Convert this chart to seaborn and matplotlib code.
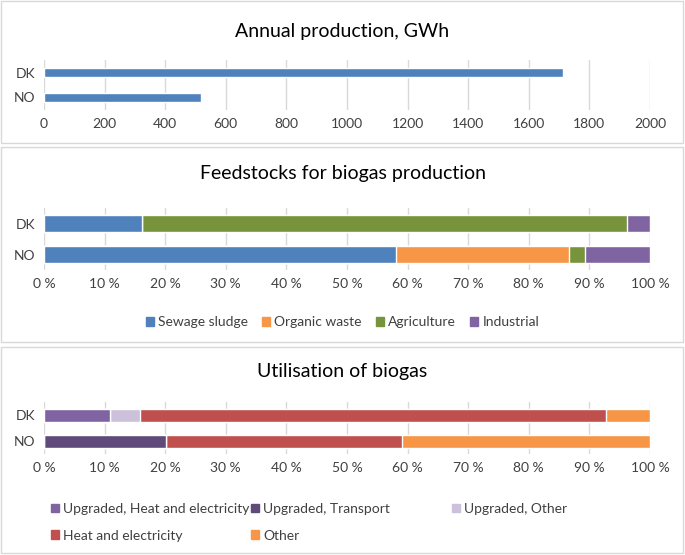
import numpy as np
import pandas as pd
import matplotlib
matplotlib.use("Agg")
import matplotlib.pyplot as plt
import seaborn as sns
from matplotlib.patches import Rectangle, Patch
from matplotlib.ticker import FuncFormatter

countries = ["DK", "NO"]

# annual production, GWh
production = [1713, 518]

# feedstock shares, %
feed_labels = ["Sewage sludge", "Organic waste", "Agriculture", "Industrial"]
feed_dk = [16.2, 0.0, 80.0, 3.8]
feed_no = [58.1, 28.5, 2.7, 10.7]
feed_colors = ["#4F81BD", "#F79646", "#77933C", "#8064A2"]

# utilisation shares, %
use_labels = ["Upgraded, Heat and electricity", "Upgraded, Transport", "Upgraded, Other",
              "Heat and electricity", "Other"]
use_dk = [10.9, 0.0, 5.0, 76.8, 7.3]
use_no = [0.0, 20.1, 0.0, 39.0, 40.9]
use_colors = ["#8064A2", "#604A7B", "#CCC1DA", "#C0504D", "#F79646"]

W, H = 685, 555
sns.set_theme(style="white")
plt.rcParams["font.family"] = ["Lato", "DejaVu Sans"]
txt = "#404040"

fig = plt.figure(figsize=(W / 100, H / 100), dpi=100)


def px_axes(x0, x1, y0, y1):
    return fig.add_axes([x0 / W, 1 - y1 / H, (x1 - x0) / W, (y1 - y0) / H])


def style(ax, xmax, step, pct=False):
    ax.set_xlim(0, xmax)
    ax.set_ylim(1.5, -0.5)
    ax.set_xticks(np.arange(0, xmax + 1, step))
    if pct:
        ax.xaxis.set_major_formatter(FuncFormatter(lambda v, p: f"{v:.0f} %"))
    ax.grid(axis="x", color="#D9D9D9", lw=1)
    ax.set_axisbelow(True)
    for s in ax.spines.values():
        s.set_visible(False)
    ax.tick_params(axis="both", length=0, labelsize=10, colors=txt, pad=6)
    ax.set_xlabel("")
    ax.set_ylabel("")


def stacked(ax, rows, colors, width):
    data = np.array(rows)
    cum = np.cumsum(data, axis=1)
    for i in range(data.shape[1] - 1, -1, -1):
        sns.barplot(x=cum[:, i], y=countries, color=colors[i], width=width,
                    saturation=1, orient="h", errorbar=None, ax=ax)


# panel borders
for y0, y1 in [(1, 143), (147, 342), (347, 553)]:
    fig.patches.append(Rectangle((1 / W, 1 - y1 / H), (W - 3) / W, (y1 - y0) / H,
                                 transform=fig.transFigure, fill=False,
                                 edgecolor="#D9D9D9", lw=1))

# annual production
ax1 = px_axes(44, 650, 60, 110)
df1 = pd.DataFrame({"country": countries, "GWh": production})
sns.barplot(data=df1, x="GWh", y="country", color="#4F81BD", width=0.36,
            saturation=1, orient="h", errorbar=None, ax=ax1)
style(ax1, 2000, 200)
fig.text(0.5, 1 - 32 / H, "Annual production, GWh", ha="center", va="center",
         fontsize=14, color="black")

# feedstocks
ax2 = px_axes(44, 650, 208, 270)
stacked(ax2, [feed_dk, feed_no], feed_colors, 0.55)
style(ax2, 100, 10, pct=True)
fig.text(0.5, 1 - 174 / H, "Feedstocks for biogas production", ha="center", va="center",
         fontsize=14, color="black")
h2 = [Patch(color=c) for c in feed_colors]
fig.legend(h2, feed_labels, loc="center", bbox_to_anchor=(0.5, 1 - 322 / H), ncol=4,
           frameon=False, fontsize=10, handlelength=0.6, handleheight=0.6,
           handletextpad=0.3, columnspacing=1.0, labelcolor=txt)

# utilisation
ax3 = px_axes(44, 650, 402, 454)
stacked(ax3, [use_dk, use_no], use_colors, 0.5)
style(ax3, 100, 10, pct=True)
fig.text(0.5, 1 - 372 / H, "Utilisation of biogas", ha="center", va="center",
         fontsize=14, color="black")
h3 = [Patch(color=c) for c in use_colors]
cols = [([0, 3], 44), ([1, 4], 244), ([2], 445)]
for idx, x in cols:
    fig.legend([h3[i] for i in idx], [use_labels[i] for i in idx], loc="upper left",
               bbox_to_anchor=(x / W, 1 - 496 / H), frameon=False, fontsize=10,
               handlelength=0.6, handleheight=0.6, handletextpad=0.3,
               labelspacing=1.05, labelcolor=txt, borderpad=0)

fig.savefig("out.png", dpi=100)
